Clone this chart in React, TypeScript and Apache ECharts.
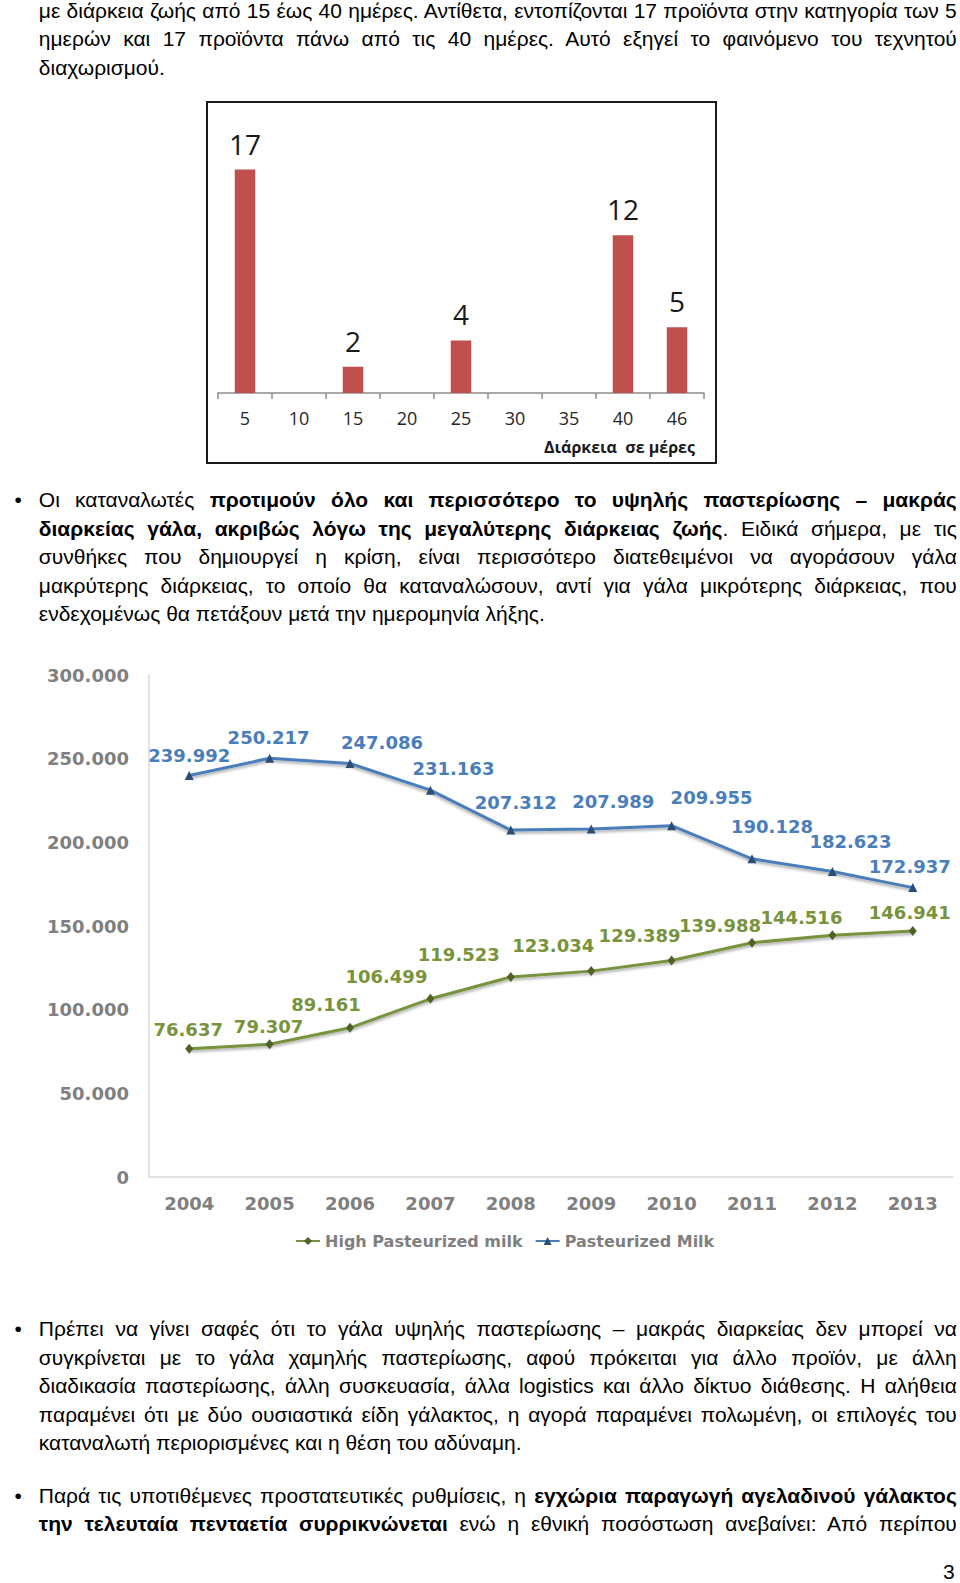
import React, { useEffect, useRef } from 'react';
import * as echarts from 'echarts';

// ---------- Data ----------
const durationCategories = ['5', '10', '15', '20', '25', '30', '35', '40', '46'];
const productCounts = [17, 0, 2, 0, 4, 0, 0, 12, 5];
const durationAxisTitle = 'Διάρκεια  σε μέρες';

const years = ['2004', '2005', '2006', '2007', '2008', '2009', '2010', '2011', '2012', '2013'];
const highPasteurizedMilk = [76637, 79307, 89161, 106499, 119523, 123034, 129389, 139988, 144516, 146941];
const pasteurizedMilk = [239992, 250217, 247086, 231163, 207312, 207989, 209955, 190128, 182623, 172937];
const yAxisMin = 0;
const yAxisMax = 300000;
const yAxisStep = 50000;
const seriesNames = ['High Pasteurized milk', 'Pasteurized Milk'];

// label offsets (styling only)
const highLabelOffsets = [[-1, -19], [-1, -18], [-24, -23], [-44, -22], [-52, -22], [-38, -26], [-32, -25], [-32, -17], [-31, -18], [-3, -19]];
const pastLabelOffsets = [[0, -20], [-1, -21], [32, -21], [23, -22], [5, -28], [22, -27], [40, -28], [20, -32], [18, -30], [-3, -21]];

// ---------- Text ----------
const para1 = [
  'με διάρκεια ζωής από 15 έως 40 ημέρες. Αντίθετα, εντοπίζονται 17 προϊόντα στην κατηγορία των 5',
  'ημερών και 17 προϊόντα πάνω από τις 40 ημέρες. Αυτό εξηγεί το φαινόμενο του τεχνητού',
  'διαχωρισμού.',
];
const para2 = [
  'Οι καταναλωτές **προτιμούν όλο και περισσότερο το υψηλής παστερίωσης – μακράς**',
  '**διαρκείας γάλα, ακριβώς λόγω της μεγαλύτερης διάρκειας ζωής**. Ειδικά σήμερα, με τις',
  'συνθήκες που δημιουργεί η κρίση, είναι περισσότερο διατεθειμένοι να αγοράσουν γάλα',
  'μακρύτερης διάρκειας, το οποίο θα καταναλώσουν, αντί για γάλα μικρότερης διάρκειας, που',
  'ενδεχομένως θα πετάξουν μετά την ημερομηνία λήξης.',
];
const para3 = [
  'Πρέπει να γίνει σαφές ότι το γάλα υψηλής παστερίωσης – μακράς διαρκείας δεν μπορεί να',
  'συγκρίνεται με το γάλα χαμηλής παστερίωσης, αφού πρόκειται για άλλο προϊόν, με άλλη',
  'διαδικασία παστερίωσης, άλλη συσκευασία, άλλα logistics και άλλο δίκτυο διάθεσης. Η αλήθεια',
  'παραμένει ότι με δύο ουσιαστικά είδη γάλακτος, η αγορά παραμένει πολωμένη, οι επιλογές του',
  'καταναλωτή περιορισμένες και η θέση του αδύναμη.',
];
const para4 = [
  'Παρά τις υποτιθέμενες προστατευτικές ρυθμίσεις, η **εγχώρια παραγωγή αγελαδινού γάλακτος**',
  '**την τελευταία πενταετία συρρικνώνεται** ενώ η εθνική ποσόστωση ανεβαίνει: Από περίπου',
];
const pageNumber = '3';

const TEXT_FONT = '"Liberation Sans", Arial, Helvetica, sans-serif';
const TEXT_SIZE = 21;
const LINE_GAP = 28.5;
const BASE_OFF = 21.3;

function renderSegs(s: string) {
  const parts = s.split('**');
  return parts.map((p, i) => (i % 2 === 1 ? <b key={i}>{p}</b> : <span key={i}>{p}</span>));
}

function Paragraph({ lines, firstBaseline, bullet, justifyLast }: { lines: string[]; firstBaseline: number; bullet?: boolean; justifyLast?: boolean }) {
  return (
    <>
      {bullet && (
        <div style={{ position: 'absolute', left: 14.5, top: firstBaseline - BASE_OFF, fontSize: TEXT_SIZE, lineHeight: '28px', fontFamily: TEXT_FONT }}>•</div>
      )}
      {lines.map((l, i) => {
        const isLast = i === lines.length - 1 && !justifyLast;
        return (
          <div
            key={i}
            style={{
              position: 'absolute',
              left: 38.8,
              width: 918,
              top: firstBaseline + i * LINE_GAP - BASE_OFF,
              fontSize: TEXT_SIZE,
              lineHeight: '28px',
              fontFamily: TEXT_FONT,
              color: '#000',
              textAlign: isLast ? 'left' : 'justify',
              textAlignLast: isLast ? 'left' : 'justify',
              whiteSpace: 'nowrap',
            } as React.CSSProperties}
          >
            {renderSegs(l)}
          </div>
        );
      })}
    </>
  );
}

function fmtThousands(v: number) {
  if (v === 0) return '0';
  const k = Math.floor(v / 1000);
  const r = v % 1000;
  return k + '.' + String(r).padStart(3, '0');
}

function BarChart() {
  const ref = useRef<HTMLDivElement>(null);
  useEffect(() => {
    const chart = echarts.init(ref.current!, null, { renderer: 'svg' });
    chart.setOption({
      animation: false,
      grid: { left: 10, right: 11, top: 66.6, bottom: 69 },
      xAxis: {
        type: 'category',
        data: durationCategories,
        axisLine: { lineStyle: { color: '#8c8c8c', width: 1.5 } },
        axisTick: { show: true, length: 6, lineStyle: { color: '#8c8c8c', width: 1.5 } },
        axisLabel: { color: '#262626', fontSize: 18, fontFamily: '"Open Sans", sans-serif', margin: 16 },
      },
      yAxis: { type: 'value', min: 0, max: 17, show: false, splitLine: { show: false } },
      series: [
        {
          type: 'bar',
          data: productCounts,
          barWidth: '38%',
          itemStyle: { color: '#C0504D' },
          label: {
            show: true,
            position: 'top',
            distance: 12,
            color: '#1a1a1a',
            fontSize: 28,
            fontFamily: '"Open Sans", sans-serif',
            formatter: (p: any) => (p.value === 0 ? '' : String(p.value)),
          },
        },
      ],
      graphic: [
        {
          type: 'text',
          left: 336,
          top: 336,
          style: { text: durationAxisTitle, fontSize: 16, fontWeight: 'bold', fontFamily: '"Open Sans", sans-serif', fill: '#1a1a1a' },
        },
      ],
    });
    return () => chart.dispose();
  }, []);
  return (
    <>
      <div style={{ position: 'absolute', left: 206, top: 101, width: 511, height: 363, border: '2px solid #1a1a1a', boxSizing: 'border-box' }} />
      <div ref={ref} style={{ position: 'absolute', left: 208, top: 103, width: 507, height: 359 }} />
    </>
  );
}

function LineChart() {
  const ref = useRef<HTMLDivElement>(null);
  useEffect(() => {
    const chart = echarts.init(ref.current!, null, { renderer: 'svg' });
    const labelFont = { fontFamily: '"DejaVu Sans", Verdana, sans-serif', fontWeight: 'bold' as const, fontSize: 18 };
    const mk = (vals: number[], offs: number[][]) =>
      vals.map((v, i) => ({ value: v, label: { offset: offs[i] } }));
    chart.setOption({
      animation: false,
      grid: { left: 149, right: 7, top: 25, bottom: 88 },
      legend: {
        data: seriesNames,
        left: 295,
        top: 583,
        padding: 0,
        itemWidth: 24,
        itemHeight: 10,
        itemGap: 12,
        textStyle: { color: '#7f7f7f', fontSize: 16, fontFamily: '"DejaVu Sans", Verdana, sans-serif', fontWeight: 'bold' },
      },
      xAxis: {
        type: 'category',
        data: years,
        boundaryGap: true,
        axisLine: { lineStyle: { color: '#d9d9d9', width: 1.5 } },
        axisTick: { show: false },
        axisLabel: { color: '#7f7f7f', margin: 17, ...labelFont },
      },
      yAxis: {
        type: 'value',
        min: yAxisMin,
        max: yAxisMax,
        interval: yAxisStep,
        axisLine: { show: true, lineStyle: { color: '#d9d9d9', width: 1.5 } },
        axisTick: { show: false },
        splitLine: { show: false },
        axisLabel: { color: '#7f7f7f', margin: 20, formatter: (v: number) => fmtThousands(v), ...labelFont },
      },
      series: [
        {
          name: seriesNames[0],
          type: 'line',
          data: mk(highPasteurizedMilk, highLabelOffsets),
          symbol: 'diamond',
          symbolSize: [8, 10],
          itemStyle: { color: '#4F6228' },
          lineStyle: { color: '#77933C', width: 3, shadowColor: 'rgba(0,0,0,0.35)', shadowBlur: 3, shadowOffsetY: 2 },
          label: {
            show: true,
            position: 'inside',
            color: '#77933C',
            ...labelFont,
            formatter: (p: any) => fmtThousands(p.value),
          },
        },
        {
          name: seriesNames[1],
          type: 'line',
          data: mk(pasteurizedMilk, pastLabelOffsets),
          symbol: 'triangle',
          symbolSize: 9,
          itemStyle: { color: '#2C4D75' },
          lineStyle: { color: '#4A7EBB', width: 3, shadowColor: 'rgba(0,0,0,0.35)', shadowBlur: 3, shadowOffsetY: 2 },
          label: {
            show: true,
            position: 'inside',
            color: '#4A7EBB',
            ...labelFont,
            formatter: (p: any) => fmtThousands(p.value),
          },
        },
      ],
    });
    return () => chart.dispose();
  }, []);
  return <div ref={ref} style={{ position: 'absolute', left: 0, top: 650, width: 960, height: 615 }} />;
}

export default function App() {
  return (
    <div style={{ position: 'absolute', left: 0, top: 0, width: 960, height: 1583, background: '#fff', overflow: 'hidden' }}>
      <Paragraph lines={para1} firstBaseline={18} />
      <BarChart />
      <Paragraph lines={para2} firstBaseline={507.7} bullet />
      <LineChart />
      <Paragraph lines={para3} firstBaseline={1336.5} bullet />
      <Paragraph lines={para4} firstBaseline={1503} bullet justifyLast />
      <div style={{ position: 'absolute', left: 943, top: 1579 - BASE_OFF, fontSize: TEXT_SIZE, lineHeight: '28px', fontFamily: TEXT_FONT }}>{pageNumber}</div>
    </div>
  );
}
